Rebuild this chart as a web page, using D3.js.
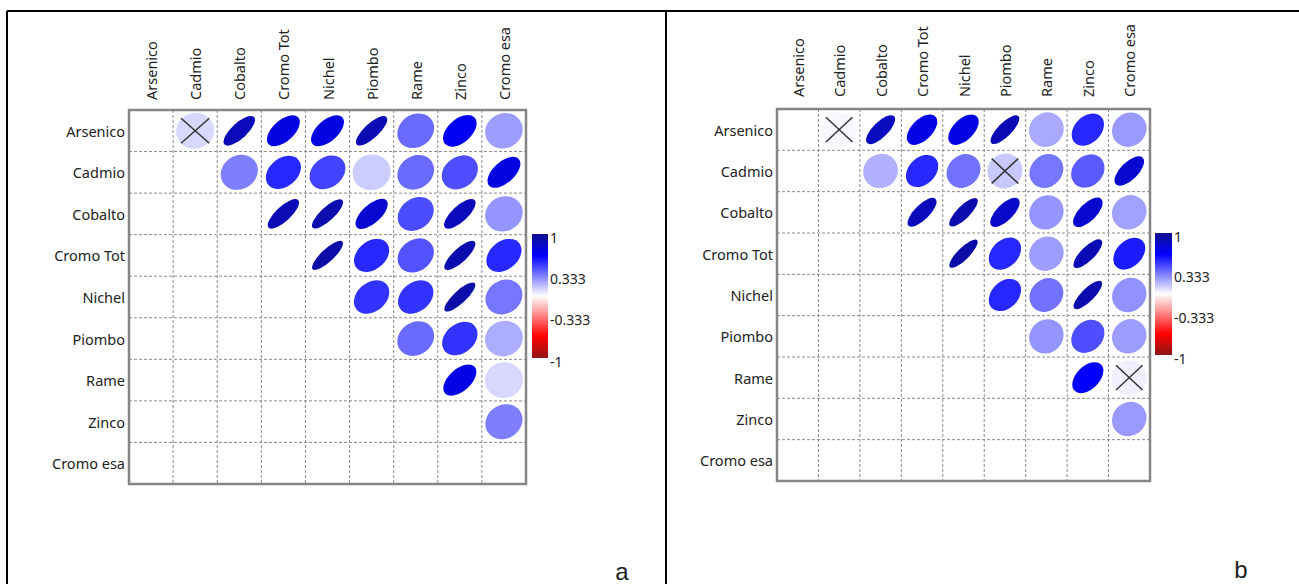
<!DOCTYPE html>
<html>
<head>
<meta charset="utf-8">
<script src="https://cdn.jsdelivr.net/npm/d3@7"></script>
<style>
  html, body { margin: 0; padding: 0; background: #fff; }
  svg { display: block; }
  text { font-family: "Noto Sans", "Open Sans", sans-serif; fill: #222; }
</style>
</head>
<body>
<svg id="chart" width="1299" height="584"></svg>
<script>
// Variables shown on both matrices
const variables = ["Arsenico", "Cadmio", "Cobalto", "Cromo Tot", "Nichel",
                   "Piombo", "Rame", "Zinco", "Cromo esa"];

// Upper-triangle correlations, one row per variable (columns to its right)
const corrA = [
  [0.10, 0.86, 0.74, 0.74, 0.88, 0.38, 0.68, 0.25],
  [0.33, 0.55, 0.48, 0.13, 0.38, 0.45, 0.74],
  [0.88, 0.90, 0.80, 0.46, 0.86, 0.27],
  [0.92, 0.55, 0.44, 0.90, 0.55],
  [0.52, 0.52, 0.92, 0.35],
  [0.38, 0.52, 0.21],
  [0.72, 0.10],
  [0.33]
];
const corrB = [
  [0.02, 0.85, 0.72, 0.72, 0.88, 0.22, 0.55, 0.26],
  [0.20, 0.55, 0.36, 0.14, 0.35, 0.42, 0.80],
  [0.86, 0.90, 0.82, 0.27, 0.80, 0.24],
  [0.92, 0.55, 0.25, 0.88, 0.58],
  [0.55, 0.36, 0.90, 0.28],
  [0.27, 0.45, 0.25],
  [0.66, 0.04],
  [0.26]
];

// Pairs whose correlation is not significant (crossed out)
const nonSigA = [["Arsenico", "Cadmio"]];
const nonSigB = [["Arsenico", "Cadmio"], ["Cadmio", "Piombo"], ["Rame", "Cromo esa"]];

// Colour bar
const colorTicks = [1, 0.333, -0.333, -1];
const colorStops = [-1, -0.65, 0, 0.65, 1];
const colorRange = ["#8e1616", "#ff0000", "#ffffff", "#0000ff", "#10108e"];

const panelLetters = ["a", "b"];

const color = d3.scaleLinear().domain(colorStops).range(colorRange).clamp(true);
const svg = d3.select("#chart");

// colour-bar gradient
const defs = svg.append("defs");
const grad = defs.append("linearGradient")
  .attr("id", "cbar").attr("x1", 0).attr("y1", 0).attr("x2", 0).attr("y2", 1);
d3.range(0, 41).forEach(k => {
  const v = 1 - k / 20;
  grad.append("stop").attr("offset", (k / 40 * 100) + "%").attr("stop-color", color(v));
});

// panel frame lines
const frame = svg.append("g").attr("stroke", "#000").attr("stroke-width", 2);
frame.append("line").attr("x1", 7).attr("x2", 1299).attr("y1", 11).attr("y2", 11);
frame.append("line").attr("x1", 7).attr("x2", 7).attr("y1", 11).attr("y2", 584);
frame.append("line").attr("x1", 666).attr("x2", 666).attr("y1", 11).attr("y2", 584);

function drawPanel(cfg, corr, nonSig, letter) {
  const g = svg.append("g");
  const x = d3.scaleBand().domain(variables).range([cfg.left, cfg.right]);
  const y = d3.scaleBand().domain(variables).range([cfg.top, cfg.bottom]);
  const cw = x.bandwidth(), ch = y.bandwidth();

  // dashed inner grid
  const grid = g.append("g").attr("stroke", "#8a8a8a").attr("stroke-width", 1)
    .attr("stroke-dasharray", "3,2");
  variables.slice(1).forEach(v => {
    grid.append("line").attr("x1", x(v)).attr("x2", x(v)).attr("y1", cfg.top).attr("y2", cfg.bottom);
    grid.append("line").attr("y1", y(v)).attr("y2", y(v)).attr("x1", cfg.left).attr("x2", cfg.right);
  });

  // cells
  const cells = [];
  corr.forEach((row, i) => row.forEach((r, k) => {
    const j = i + 1 + k;
    cells.push({ row: variables[i], col: variables[j], r });
  }));
  const isNonSig = d => nonSig.some(p => p[0] === d.row && p[1] === d.col);

  const cg = g.selectAll("g.cell").data(cells).join("g")
    .attr("class", "cell")
    .attr("transform", d => `translate(${x(d.col) + cw / 2},${y(d.row) + ch / 2})`);

  // ellipse: long axis along the diagonal, narrowing as |r| grows
  const major = d => cfg.size * (1 + 0.1 * Math.abs(d.r));
  const ratio = r => 1 - 0.15 * Math.abs(r) - 0.65 * r * r;
  cg.append("ellipse")
    .attr("transform", `scale(${cw / ch},1) rotate(-45)`)
    .attr("rx", major)
    .attr("ry", d => major(d) * ratio(d.r))
    .attr("fill", d => color(d.r));

  cg.filter(isNonSig).each(function () {
    const s = d3.select(this);
    const hx = cw * 0.32, hy = ch * 0.3;
    s.append("line").attr("x1", -hx).attr("y1", -hy).attr("x2", hx).attr("y2", hy)
      .attr("stroke", "#333").attr("stroke-width", 1.5);
    s.append("line").attr("x1", -hx).attr("y1", hy).attr("x2", hx).attr("y2", -hy)
      .attr("stroke", "#333").attr("stroke-width", 1.5);
  });

  // outer border
  g.append("rect").attr("x", cfg.left).attr("y", cfg.top)
    .attr("width", cfg.right - cfg.left).attr("height", cfg.bottom - cfg.top)
    .attr("fill", "none").attr("stroke", "#858585").attr("stroke-width", 2.5);

  // row labels
  g.selectAll("text.rowlab").data(variables).join("text")
    .attr("class", "rowlab")
    .attr("x", cfg.left - 4).attr("y", d => y(d) + ch / 2)
    .attr("text-anchor", "end").attr("dominant-baseline", "central")
    .attr("font-size", 14.5).text(d => d);

  // column labels
  g.selectAll("text.collab").data(variables).join("text")
    .attr("class", "collab")
    .attr("transform", d => `translate(${x(d) + cw / 2},${cfg.top - cfg.colGap}) rotate(-90)`)
    .attr("text-anchor", "start").attr("dominant-baseline", "central")
    .attr("font-size", 14.5).text(d => d);

  // colour bar
  const cb = cfg.cbar;
  const cy = d3.scaleLinear().domain([1, -1]).range([cb.top, cb.bottom]);
  g.append("rect").attr("x", cb.x).attr("y", cb.top).attr("width", cb.w)
    .attr("height", cb.bottom - cb.top).attr("fill", "url(#cbar)");
  g.selectAll("text.cbt").data(colorTicks).join("text")
    .attr("class", "cbt")
    .attr("x", cb.x + cb.w + 2).attr("y", d => cy(d) + 3)
    .attr("dominant-baseline", "central").attr("font-size", 14)
    .text(d => String(d));

  // panel letter
  svg.append("text").attr("x", cfg.letterX).attr("y", cfg.letterY)
    .style("font-family", "'Liberation Sans', Arial, sans-serif")
    .attr("font-size", 24).attr("text-anchor", "middle").text(letter);
}

drawPanel({ left: 129, right: 526, top: 110, bottom: 484, colGap: 10, size: 18,
            cbar: { x: 532, w: 16, top: 234, bottom: 358 }, letterX: 622, letterY: 580 },
          corrA, nonSigA, panelLetters[0]);
drawPanel({ left: 777, right: 1150, top: 109, bottom: 481, colGap: 12, size: 17.5,
            cbar: { x: 1155, w: 17, top: 233, bottom: 355 }, letterX: 1241, letterY: 578 },
          corrB, nonSigB, panelLetters[1]);
</script>
</body>
</html>
